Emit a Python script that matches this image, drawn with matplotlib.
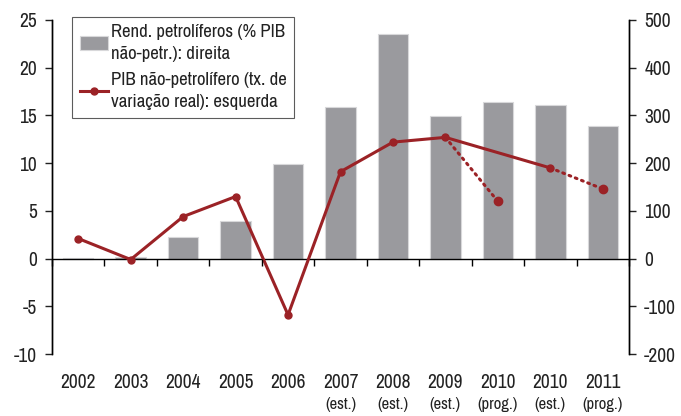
import numpy as np
import matplotlib
matplotlib.use('Agg')
from matplotlib import pyplot as plt
from matplotlib import transforms

plt.rcParams['font.family'] = ['Archivo Narrow', 'Roboto Condensed', 'DejaVu Sans']
plt.rcParams['axes.unicode_minus'] = False

years = ['2002', '2003', '2004', '2005', '2006', '2007', '2008', '2009', '2010', '2010', '2011']
notes = ['', '', '', '', '', '(est.)', '(est.)', '(est.)', '(prog.)', '(est.)', '(prog.)']

# Rendimentos petrolíferos (% PIB não-petr.) - eixo direito
oil_income = [2, 4, 46, 78, 198, 317, 471, 298, 328, 321, 277]
# PIB não-petrolífero (tx. de variação real) - eixo esquerdo
gdp_growth = [2.1, -0.1, 4.4, 6.5, -5.9, 9.1, 12.2, 12.7, 6.0, 9.5, 7.3]

solid_idx = [0, 1, 2, 3, 4, 5, 6, 7, 9]
dotted_pairs = [(7, 8), (9, 10)]

bar_color = '#9a9a9e'
line_color = '#9b2226'

fig = plt.figure(figsize=(6.81, 4.16), dpi=100)
ax = fig.add_axes([0.0764, 0.149, 0.8472, 0.803])
ax2 = ax.twinx()
ax.set_zorder(ax2.get_zorder() + 1)
ax.patch.set_visible(False)

x = np.arange(len(years))

bars = ax2.bar(x, oil_income, width=0.58, color=bar_color, edgecolor='#d8d8da',
               linewidth=0.8, label='Rend. petrolíferos (% PIB\nnão-petr.): direita')

xs = [x[i] for i in solid_idx]
ys = [gdp_growth[i] for i in solid_idx]
line, = ax.plot(xs, ys, color=line_color, lw=2.2, marker='o', ms=5,
                label='PIB não-petrolífero (tx. de\nvariação real): esquerda')
for a, b in dotted_pairs:
    ax.plot([x[a], x[b]], [gdp_growth[a], gdp_growth[b]], color=line_color,
            lw=2.2, ls=(0, (0.6, 1.6)), dash_capstyle='round')
    ax.plot([x[b]], [gdp_growth[b]], 'o', color=line_color, ms=6)

ax.set_xlim(-0.5, len(years) - 0.5)
ax.set_ylim(-10, 25)
ax2.set_ylim(-200, 500)
ax.set_yticks(np.arange(-10, 26, 5))
ax2.set_yticks(np.arange(-200, 501, 100))

for a in (ax, ax2):
    a.spines['top'].set_visible(False)
    a.spines['bottom'].set_visible(False)
    a.spines['left'].set_linewidth(1.0)
    a.spines['right'].set_linewidth(1.0)
    a.tick_params(axis='y', labelsize=14, length=5, width=1.0, pad=6, colors='#222222')

ax.axhline(0, color='black', lw=1.0, zorder=1)
ax.set_xticks([])
# ticks between categories on the zero line
bounds = np.arange(-0.5, len(years), 1.0)
ax.vlines(bounds, -0.75, 0, color='black', lw=1.0, clip_on=False)

trans = transforms.blended_transform_factory(ax.transData, fig.transFigure)
for i in range(len(years)):
    ax.text(x[i], 1 - 383 / 416, years[i], transform=trans, ha='center', va='center',
            fontsize=14, color='#222222')
    if notes[i]:
        ax.text(x[i], 1 - 405 / 416, notes[i], transform=trans, ha='center',
                va='center', fontsize=12, color='#222222')

leg = ax.legend([bars, line], [bars.get_label(), line.get_label()],
                loc='upper left', bbox_to_anchor=(0.035, 1.01), fontsize=13.5,
                frameon=True, fancybox=False, edgecolor='#333333', handlelength=1.5,
                handletextpad=0.15, borderpad=0.4, labelspacing=0.55,
                borderaxespad=0)
leg.get_frame().set_linewidth(0.8)
for t in leg.get_texts():
    t.set_color('#222222')
    t.set_linespacing(1.45)

fig.savefig('out.png', dpi=100)
